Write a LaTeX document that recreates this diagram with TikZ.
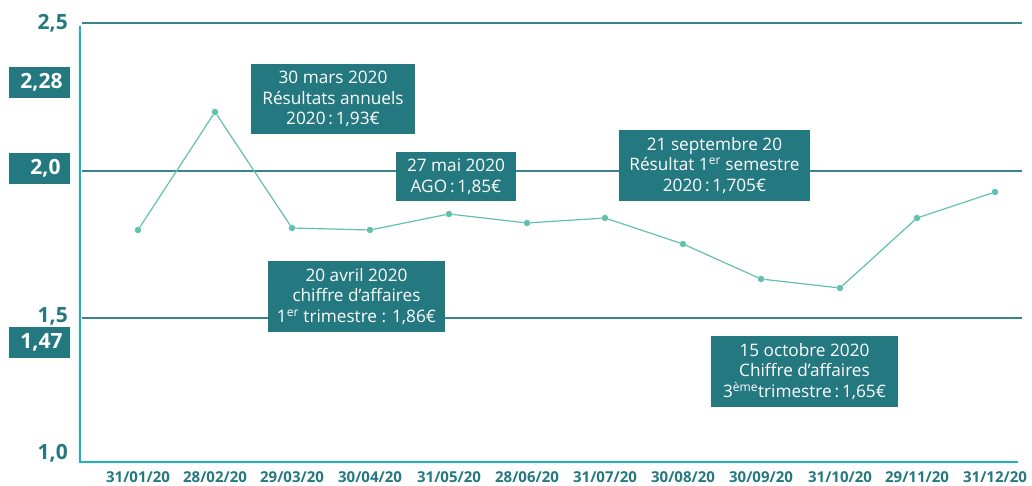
\documentclass[tikz,border=0pt]{standalone}
\usepackage{fontspec}
\setmainfont{Open Sans}
\usepackage{xcolor}
\usepackage{tikz}
\definecolor{boxteal}{HTML}{24787F}
\definecolor{lineteal}{HTML}{62C0B0}
\definecolor{axiscyan}{HTML}{1CB2C6}
\definecolor{gridteal}{HTML}{3A858B}
\tikzset{
  infobox/.style={fill=boxteal,text=white,align=center,inner sep=0pt,
    font=\fontsize{17.2}{20.8}\selectfont},
  ticklab/.style={text=boxteal,anchor=east,inner sep=0pt,
    font=\fontsize{21}{21}\selectfont\bfseries},
  tickbox/.style={fill=boxteal,text=white,minimum width=61pt,minimum height=31pt,
    inner sep=0pt,font=\fontsize{21}{21}\selectfont\bfseries},
  datelab/.style={text=boxteal,inner sep=0pt,anchor=base,
    font=\fontsize{15}{15}\selectfont\bfseries},
  dot/.style={circle,fill=lineteal,inner sep=0pt,minimum size=6.5pt}
}
\begin{document}
\begin{tikzpicture}[x=1pt,y=-1pt]
    \useasboundingbox (0,0) rectangle (1032,486);
    % grid and axes
    \draw[gridteal,line width=1.5pt] (82,23)--(1022,23);
    \draw[gridteal,line width=1.5pt] (82,171)--(1022,171);
    \draw[gridteal,line width=1.5pt] (82,318)--(1022,318);
    \coordinate (top) at (80,26);
    \coordinate (origin) at (80,462);
    \coordinate (right) at (1018,462);
    \draw[axiscyan,line width=2.5pt] (top)--(origin)--(right);

    % y labels
    \node[ticklab] (y25) at (68,23) {2,5};
    \node[ticklab] (y15) at (68,316) {1,5};
    \node[ticklab] (y10) at (68,453) {1,0};
    \node[tickbox] (y228) at (39.5,82.5) {\hspace*{4pt}2,28};
    \node[tickbox] (y20) at (39.5,168.5) {\hspace*{12pt}2,0};
    \node[tickbox] (y147) at (39.5,342.5) {\hspace*{4pt}1,47};

    % series
    \foreach \i/\x/\y/\d in {1/138/230/31\slash01\slash20, 2/215/112/28\slash02\slash20,
        3/292/228/29\slash03\slash20, 4/370/230/30\slash04\slash20,
        5/449/214/31\slash05\slash20, 6/527/223/28\slash06\slash20,
        7/605/218/31\slash07\slash20, 8/683/244/30\slash08\slash20,
        9/761/279/30\slash09\slash20, 10/840/288/31\slash10\slash20,
        11/917/218/29\slash11\slash20, 12/995/192/31\slash12\slash20}{
      \node[dot] (p\i) at (\x,\y) {};
      \node[datelab] (d\i) at (\x,482.5) {\d};
    }
    \foreach \i [evaluate=\i as \j using int(\i+1)] in {1,...,11}
      \draw[lineteal,line width=1.2pt] (p\i)--(p\j);

    % events
    \node[infobox,minimum width=164pt,minimum height=70pt] (mars) at (333,99)
      {30 mars 2020\\Résultats annuels\\2020\,:\,1,93€};
    \node[infobox,minimum width=120pt,minimum height=49pt] (mai) at (456,176.5)
      {27 mai 2020\\AGO\,:\,1,85€};
    \node[infobox,minimum width=191pt,minimum height=71pt] (sept) at (714.5,165.5)
      {21 septembre 20\\Résultat 1\textsuperscript{er} semestre\\2020\,:\,1,705€};
    \node[infobox,minimum width=177pt,minimum height=71pt] (avril) at (356.5,296.5)
      {20 avril 2020\\chiffre d’affaires\\1\textsuperscript{er} trimestre : 1,86€};
    \node[infobox,minimum width=187pt,minimum height=71pt] (oct) at (804.5,371.5)
      {15 octobre 2020\\Chiffre d’affaires\\3\textsuperscript{ème}trimestre\,:\,1,65€};
\end{tikzpicture}
\end{document}
